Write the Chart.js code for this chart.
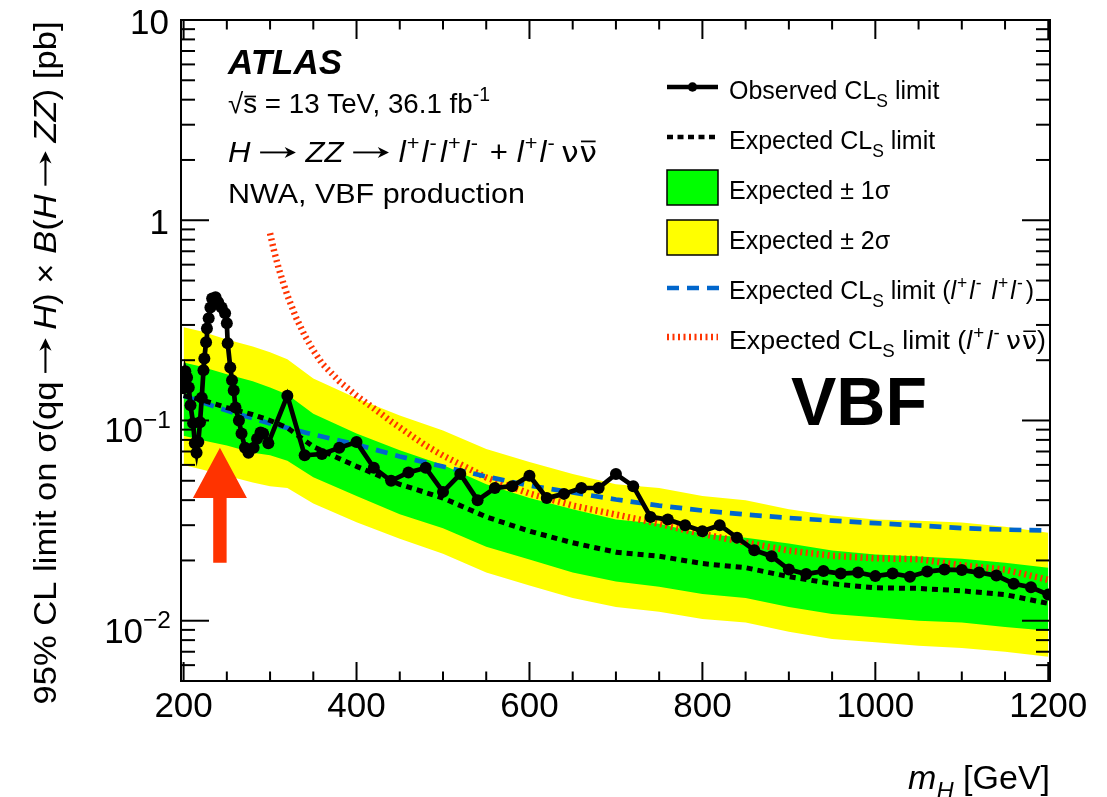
<!DOCTYPE html>
<html>
<head>
<meta charset="utf-8">
<script src="https://cdn.jsdelivr.net/npm/chart.js@4.4.0/dist/chart.umd.min.js"></script>
<style>
  html, body { margin:0; padding:0; background:#fff; }
  #wrap { width:1107px; height:797px; }
</style>
</head>
<body>
<div id="wrap"><canvas id="limitChart" width="1107" height="797"></canvas></div>
<script>
// observed CLs limit, fine steps at low mass
const obsMass = [200,202,204,206,208,211,213,215,217,219,221,223,224,226,227,229,231,233,237,240,
  244,248,250,251,254,256,258,260,264,267,271,275,281,285,289,292,298,320,340,360,380,400,
  420,440,460,480,500,520,540,560,580,600,620,640,660,680,700,720,740,760,780,800,
  820,840,860,880,900,920,940,960,980,1000,1020,1040,1060,1080,1100,1120,1140,1160,1180,1200];
const obsLimit = [0.145,0.176,0.164,0.146,0.119,0.097,0.077,0.069,0.078,0.098,0.130,0.178,0.204,0.246,0.288,0.324,0.367,0.407,0.412,0.389,
  0.367,0.343,0.306,0.243,0.184,0.159,0.141,0.116,0.100,0.086,0.073,0.069,0.073,0.081,0.087,0.086,0.077,0.133,0.067,0.068,0.073,0.078,
  0.058,0.050,0.055,0.058,0.044,0.054,0.040,0.046,0.047,0.053,0.041,0.043,0.046,0.046,0.054,0.047,0.033,0.032,0.030,0.028,
  0.030,0.026,0.0225,0.021,0.018,0.0171,0.0177,0.0172,0.0174,0.0167,0.0172,0.0166,0.0176,0.0180,0.0179,0.0174,0.0168,0.0153,0.0147,0.0135];

// combined expected limit and its bands
const expMass  = [200,220,250,280,300,320,350,400,450,500,550,600,650,700,750,800,850,900,950,1000,1050,1100,1150,1200];
const expLimit = [0.133,0.127,0.116,0.107,0.100,0.092,0.074,0.059,0.048,0.041,0.033,0.028,0.0245,0.022,0.021,0.0193,0.0184,0.0166,0.0153,0.0146,0.0145,0.0141,0.0135,0.0122];
const exp1Up   = [0.195,0.186,0.170,0.157,0.146,0.135,0.108,0.086,0.071,0.060,0.048,0.041,0.036,0.032,0.0305,0.0272,0.026,0.0243,0.0224,0.0214,0.0209,0.0204,0.0195,0.0184];
const exp1Down = [0.084,0.080,0.075,0.069,0.067,0.063,0.052,0.042,0.034,0.029,0.0234,0.0202,0.0174,0.0157,0.0148,0.0136,0.0130,0.0117,0.0108,0.0104,0.0100,0.0098,0.0093,0.0089];
const exp2Up   = [0.292,0.279,0.254,0.234,0.219,0.202,0.162,0.129,0.106,0.089,0.072,0.062,0.054,0.048,0.046,0.042,0.040,0.036,0.0335,0.032,0.0316,0.0309,0.0295,0.0275];
const exp2Down = [0.060,0.057,0.053,0.049,0.047,0.046,0.0385,0.031,0.0257,0.0216,0.0174,0.0150,0.0130,0.0117,0.0111,0.0102,0.0098,0.0088,0.0081,0.0078,0.0075,0.0073,0.0070,0.0066];

// single channel expected limits
const llllMass  = [200,220,250,300,350,400,450,500,550,600,650,700,750,800,850,900,950,1000,1050,1100,1150,1200];
const llllLimit = [0.133,0.124,0.112,0.0966,0.0851,0.0759,0.0661,0.0589,0.0525,0.0473,0.0437,0.0403,0.0376,0.0355,0.0339,0.0326,0.0316,0.0307,0.0299,0.0290,0.0285,0.0282];
const llvvMass  = [300,305,310,315,320,330,340,350,360,380,400,420,440,460,480,500,550,600,650,700,750,800,850,900,950,1000,1050,1100,1150,1200];
const llvvLimit = [0.861,0.692,0.575,0.490,0.422,0.327,0.266,0.224,0.193,0.157,0.133,0.115,0.0989,0.0861,0.0750,0.0668,0.0519,0.0432,0.0376,0.0339,0.0305,0.0271,0.0246,0.0224,0.0211,0.0205,0.0203,0.0189,0.0180,0.0160];

// excess marker: mass, tip, head base, tail
const arrowMass = 242;
const arrowTip = 0.073, arrowHead = 0.041, arrowTail = 0.0195;

// axis labels
const xTicks = [200, 400, 600, 800, 1000, 1200];
const yTickValues = [10, 1, 0.1, 0.01];
const yTickLabels = [['10',''], ['1',''], ['10','\u22121'], ['10','\u22122']];

const FONT = '"Liberation Sans", Arial, Helvetica, sans-serif';
const SYM = '"DejaVu Sans", sans-serif';
const RED = '#ff3300', BLUE = '#0066cc', GREEN = '#00ff00', YELLOW = '#ffff00';

function pts(xs, ys){ return xs.map((x,i)=>({x, y: ys[i]})); }
const T = (t, o) => Object.assign({t}, o || {});

function fontFor(s, size){
  const sz = (s.sup || s.sub) ? size*0.7 : size;
  return (s.it ? 'italic ' : '') + (s.bold ? 'bold ' : '') + sz.toFixed(1) + 'px ' + (s.fam || FONT);
}
function segWidth(ctx, s, size){
  const body = s.arrow ? s.arrow * size : (ctx.font = fontFor(s, size), ctx.measureText(s.t).width);
  return (s.pre || 0) + body + (s.gap || 0);
}
function richWidth(ctx, segs, size){ return segs.reduce((w, s) => w + segWidth(ctx, s, size), 0); }
// draws a run of text pieces (italic, super/subscript, overlined, arrows); fitW stretches it to a given width
function drawRich(ctx, segs, x, y, size, align, fitW){
  const w0 = richWidth(ctx, segs, size);
  const w = fitW || w0;
  const x0 = align === 'right' ? x - w : align === 'center' ? x - w/2 : x;
  ctx.save();
  ctx.translate(x0, y);
  ctx.scale(w / w0, 1);
  ctx.textAlign = 'left';
  ctx.textBaseline = 'alphabetic';
  let cx = 0;
  segs.forEach(s => {
    cx += s.pre || 0;
    let sw;
    if (s.arrow){
      sw = s.arrow * size;
      const ay = -size*0.33, th = size*0.065, hl = size*0.36, hw = size*0.19;
      ctx.fillRect(cx, ay - th/2, sw - hl*0.6, th);
      ctx.beginPath(); ctx.moveTo(cx + sw, ay); ctx.lineTo(cx + sw - hl, ay - hw);
      ctx.lineTo(cx + sw - hl*0.7, ay); ctx.lineTo(cx + sw - hl, ay + hw); ctx.closePath(); ctx.fill();
    } else {
      ctx.font = fontFor(s, size);
      const dy = s.sup ? -size*0.42 : s.sub ? size*0.3 : 0;
      ctx.fillText(s.t, cx, dy);
      sw = ctx.measureText(s.t).width;
      if (s.bar) ctx.fillRect(cx + sw*0.08, -size*(s.barH || 0.68), sw*0.84, Math.max(1.5, size*0.06));
    }
    cx += sw + (s.gap || 0);
  });
  ctx.restore();
  return w;
}
function line(ctx, x1, y1, x2, y2){ ctx.beginPath(); ctx.moveTo(x1,y1); ctx.lineTo(x2,y2); ctx.stroke(); }

const lp = T('l',{it:1, gap:1}), plus = T('+',{sup:1, gap:2}), minus = T('-',{sup:1, gap:3});
const arrow = T('', {arrow: 1.15, pre: 9, gap: 9});
const nubar = [T('\u03bd',{fam: SYM, pre: 3, gap: 1}), T('\u03bd',{fam: SYM, bar:1, barH:0.74})];
const legendRows = [
  [T('Observed CL'), T('S',{sub:1}), T(' limit')],
  [T('Expected CL'), T('S',{sub:1}), T(' limit')],
  [T('Expected \u00b1 1\u03c3')],
  [T('Expected \u00b1 2\u03c3')],
  [T('Expected CL'), T('S',{sub:1}), T(' limit ('), lp, plus, lp, minus, T(' '), lp, plus, lp, minus, T(')')],
  [T('Expected CL'), T('S',{sub:1}), T(' limit ('), lp, plus, lp, minus, ...nubar, T(')')]
];
const legendFit = [0, 0, 0, 0, 0, 317];

const overlay = {
  id: 'overlay',
  afterDatasetsDraw(chart){
    const ctx = chart.ctx, x = chart.scales.x, y = chart.scales.y;
    // red arrow pointing at the low-mass excess
    const ax = x.getPixelForValue(arrowMass);
    const yt = y.getPixelForValue(arrowTip), yh = y.getPixelForValue(arrowHead), yb = y.getPixelForValue(arrowTail);
    ctx.save();
    ctx.fillStyle = RED;
    ctx.beginPath();
    ctx.moveTo(ax, yt); ctx.lineTo(ax + 27, yh); ctx.lineTo(ax + 6.7, yh); ctx.lineTo(ax + 6.7, yb);
    ctx.lineTo(ax - 6.7, yb); ctx.lineTo(ax - 6.7, yh); ctx.lineTo(ax - 27, yh); ctx.closePath();
    ctx.fill();
    ctx.restore();
  },
  afterDraw(chart){
    const ctx = chart.ctx, x = chart.scales.x, y = chart.scales.y;
    const {left, right, top, bottom} = chart.chartArea;
    ctx.save();
    ctx.strokeStyle = '#000'; ctx.fillStyle = '#000'; ctx.lineWidth = 2;
    ctx.strokeRect(left, top, right - left, bottom - top);

    // log ticks on both vertical sides
    for (let e = -3; e <= 1; e++){
      for (let d = 1; d <= 9; d++){
        const v = d * Math.pow(10, e);
        if (v < y.min * 0.999 || v > y.max * 1.001) continue;
        const py = y.getPixelForValue(v);
        const len = d === 1 ? 28 : 14;
        line(ctx, left, py, left + len, py);
        line(ctx, right, py, right - len, py);
      }
    }
    // mass ticks top and bottom
    for (let m = 200; m <= 1200; m += 50){
      const px = x.getPixelForValue(m);
      const len = m % 200 === 0 ? 19 : 9.5;
      line(ctx, px, bottom, px, bottom - len);
      line(ctx, px, top, px, top + len);
    }

    // tick labels
    yTickValues.forEach((v, i) => {
      const py = y.getPixelForValue(v);
      const [base, ex] = yTickLabels[i];
      if (ex) drawRich(ctx, [T(base), T(ex, {sup:1})], 171, py + 22, 35, 'right');
      else drawRich(ctx, [T(base)], 169, py + 14, 35, 'right');
    });
    xTicks.forEach(m => drawRich(ctx, [T(String(m))], x.getPixelForValue(m), 717, 35, 'center'));

    // axis titles
    drawRich(ctx, [T('m',{it:1}), T('H',{it:1, sub:1}), T(' [GeV]')], 1050, 789, 34, 'right');
    const yArrow = T('', {arrow: 1.0, pre: 8, gap: 8});
    const ySegs = [T('95% CL limit on \u03c3(qq'), yArrow, T('H',{it:1}), T(') \u00d7 '), T('B',{it:1}), T('('),
      T('H',{it:1}), yArrow, T('ZZ',{it:1}), T(') [pb]')];
    ctx.save();
    ctx.translate(56, 363);
    ctx.rotate(-Math.PI / 2);
    drawRich(ctx, ySegs, 0, 0, 32, 'center', 683);
    ctx.restore();

    // labels inside the frame
    ctx.font = 'italic bold 35px ' + FONT;
    ctx.textAlign = 'left';
    ctx.fillText('ATLAS', 228, 74);
    drawRich(ctx, [T('\u221a'), T('s',{bar:1, barH:0.62}), T(' = 13 TeV, 36.1 fb'), T('-1',{sup:1})], 228, 113, 28, 'left', 262);
    drawRich(ctx, [T('H',{it:1}), arrow, T('ZZ',{it:1}), arrow, lp, plus, lp, minus, lp, plus, lp, minus,
      T(' + '), lp, plus, lp, minus, ...nubar], 228, 162, 29, 'left', 369);
    drawRich(ctx, [T('NWA, VBF production')], 228, 203, 28, 'left', 297);
    ctx.font = 'bold 68px ' + FONT;
    ctx.fillText('VBF', 791, 425);

    // legend
    const lx0 = 667, lx1 = 718;
    ctx.lineWidth = 4.5; ctx.strokeStyle = '#000';
    line(ctx, lx0, 87, lx1, 87);
    ctx.beginPath(); ctx.arc((lx0 + lx1)/2, 87, 4.7, 0, Math.PI*2); ctx.fill();
    ctx.setLineDash([6, 4.5]); ctx.lineWidth = 4.5;
    line(ctx, lx0, 137, lx1, 137);
    ctx.setLineDash([]);
    ctx.lineWidth = 1.5;
    ctx.fillStyle = GREEN; ctx.fillRect(lx0, 170, lx1 - lx0, 35); ctx.strokeRect(lx0, 170, lx1 - lx0, 35);
    ctx.fillStyle = YELLOW; ctx.fillRect(lx0, 220, lx1 - lx0, 35); ctx.strokeRect(lx0, 220, lx1 - lx0, 35);
    ctx.strokeStyle = BLUE; ctx.lineWidth = 4.5; ctx.setLineDash([12, 8]);
    line(ctx, lx0, 288, lx1 + 2, 288);
    ctx.strokeStyle = RED; ctx.lineWidth = 6.5; ctx.setLineDash([2, 3.5]);
    line(ctx, lx0, 337, lx1, 337);
    ctx.setLineDash([]);
    ctx.fillStyle = '#000';
    legendRows.forEach((segs, i) => drawRich(ctx, segs, 729, 99 + i*50, 25, 'left', legendFit[i] || undefined));
    ctx.restore();
  }
};

const clear = 'rgba(0,0,0,0)';
new Chart(document.getElementById('limitChart').getContext('2d'), {
  type: 'line',
  data: {
    datasets: [
      { label: 'Expected \u00b1 2\u03c3', data: pts(expMass, exp2Up), borderColor: clear, borderWidth: 0, pointRadius: 0, backgroundColor: YELLOW, fill: '+1', order: 10 },
      { label: '-2\u03c3', data: pts(expMass, exp2Down), borderColor: clear, borderWidth: 0, pointRadius: 0, fill: false, order: 9 },
      { label: 'Expected \u00b1 1\u03c3', data: pts(expMass, exp1Up), borderColor: clear, borderWidth: 0, pointRadius: 0, backgroundColor: GREEN, fill: '+1', order: 8 },
      { label: '-1\u03c3', data: pts(expMass, exp1Down), borderColor: clear, borderWidth: 0, pointRadius: 0, fill: false, order: 7 },
      { label: 'Expected llvv', data: pts(llvvMass, llvvLimit), borderColor: RED, borderWidth: 6.5, borderDash: [2, 3.5], pointRadius: 0, fill: false, order: 5 },
      { label: 'Expected 4l', data: pts(llllMass, llllLimit), borderColor: BLUE, borderWidth: 4.7, borderDash: [12, 8], pointRadius: 0, fill: false, order: 4 },
      { label: 'Expected', data: pts(expMass, expLimit), borderColor: '#000', borderWidth: 5, borderDash: [6, 5], pointRadius: 0, fill: false, order: 3 },
      { label: 'Observed', data: pts(obsMass, obsLimit), borderColor: '#000', borderWidth: 4.7, pointRadius: 6,
        pointBackgroundColor: '#000', pointBorderWidth: 0, fill: false, order: 1 }
    ]
  },
  options: {
    responsive: false,
    animation: false,
    devicePixelRatio: 1,
    layout: { padding: { left: 181, right: 57, top: 20, bottom: 116 } },
    elements: { line: { tension: 0 } },
    plugins: { legend: { display: false }, tooltip: { enabled: false } },
    scales: {
      x: { type: 'linear', min: 197, max: 1202, display: false },
      y: { type: 'logarithmic', min: 0.005, max: 10, display: false }
    }
  },
  plugins: [overlay]
});
</script>
</body>
</html>
